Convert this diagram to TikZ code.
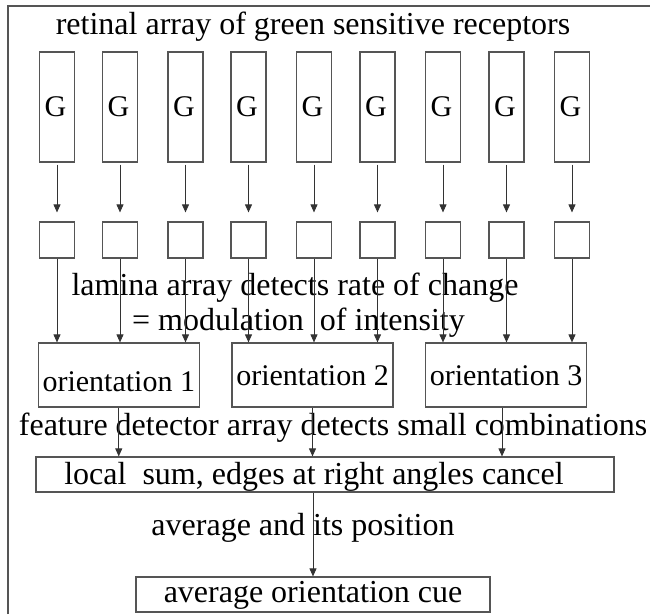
\documentclass[tikz,border=0pt]{standalone}
\usepackage{fontspec}
\setmainfont{Liberation Serif}
\usetikzlibrary{arrows.meta}
\definecolor{boxgray}{HTML}{555555}
\definecolor{linegray}{HTML}{333333}
\begin{document}
\begin{tikzpicture}[x=1pt,y=-1pt,
  boxline/.style={draw=boxgray,line width=1.2pt,inner sep=0pt},
  gbox/.style={boxline,minimum width=35pt,minimum height=110pt,font=\fontsize{30}{32}\selectfont},
  lbox/.style={boxline,minimum width=35pt,minimum height=36pt},
  obox/.style={boxline,minimum width=161pt,minimum height=64pt,font=\fontsize{30}{32}\selectfont,text depth=0pt},
  wbox/.style={boxline,minimum height=35pt,font=\fontsize{32}{36}\selectfont,text depth=0pt},
  txt/.style={inner sep=0pt,anchor=base,font=\fontsize{32}{36}\selectfont},
  arr/.style={draw=linegray,line width=0.9pt,-{Triangle[length=8pt,width=7pt]}},
  frameline/.style={draw=boxgray,line width=1.8pt}]
\useasboundingbox (0,0) rectangle (650,614);
\draw[frameline] (8,614) -- (8,6) -- (650,6);

\node[txt] (title) at (313,34) {retinal array of green sensitive receptors};

\foreach \i/\x in {1/57,2/120,3/185.5,4/248.5,5/314,6/377.5,7/443,8/506.5,9/572}{
  \node[gbox] (g\i) at (\x,107) {G\hspace*{3pt}};
  \node[lbox] (l\i) at (\x,240) {};
  \draw[arr,shorten <=2pt,shorten >=9pt] (g\i.south) -- (l\i.north);
}

\node[txt] (lam1) at (295,295) {lamina array detects rate of change};
\node[txt] (lam2) at (298.5,330) {= modulation\ \ of intensity};

\node[obox,text height=32pt] (o1) at (118.75,375) {orientation 1};
\node[obox,text height=20pt] (o2) at (312.5,375) {orientation 2};
\node[obox,text height=20pt] (o3) at (506,375) {orientation 3};

\foreach \i/\o in {1/o1,2/o1,3/o1,4/o2,5/o2,6/o2,7/o3,8/o3,9/o3}{
  \draw[arr] (l\i.south) -- (l\i.south |- \o.north);
}

\node[txt] (feat) at (333,435) {feature detector array detects small combinations};

\node[wbox,minimum width=578pt,text height=19pt] (ls) at (325,474.5) {local\ \ sum, edges at right angles cancel\hspace*{22pt}};

\coordinate (o1out) at (o1.south);
\coordinate (o2out) at (o2.south);
\coordinate (o3out) at ([xshift=-4pt]o3.south);
\foreach \c in {o1out,o2out,o3out}{
  \draw[arr] (\c) -- (\c |- ls.north);
}

\node[txt] (avgpos) at (303,535) {average and its position};

\node[wbox,minimum width=354pt,text height=15pt] (av) at (313,594.5) {average orientation cue};

\draw[arr] (av.north |- ls.south) -- (av.north);
\end{tikzpicture}
\end{document}
